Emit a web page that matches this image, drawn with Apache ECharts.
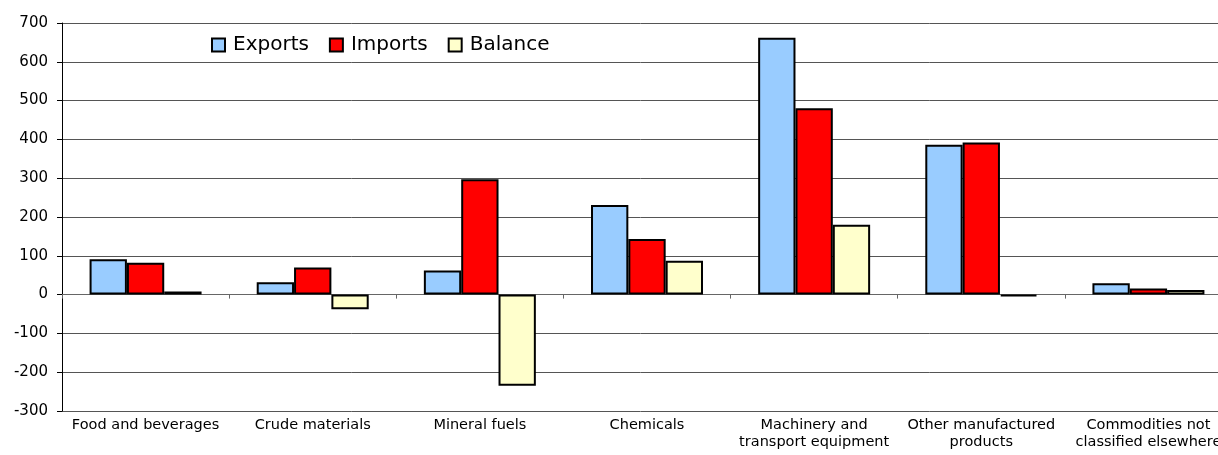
<!DOCTYPE html>
<html>
<head>
<meta charset="utf-8">
<script src="https://cdn.jsdelivr.net/npm/echarts@6/dist/echarts.min.js"></script>
<style>html,body{margin:0;padding:0;background:#fff}#c{width:1218px;height:455px}</style>
</head>
<body>
<div id="c"></div>
<script>
var categories = ["Food and beverages", "Crude materials", "Mineral fuels", "Chemicals", "Machinery and\ntransport equipment", "Other manufactured\nproducts", "Commodities not\nclassified elsewhere"];
var exportsData = [91, 32, 62, 231, 662, 386, 29];
var importsData = [82, 70, 297, 143, 480, 392, 16];
var balanceData = [8, -38, -235, 87, 180, -4, 12];
var yTicks = {min: -300, max: 700, interval: 100};

var FONT = "DejaVu Sans";
var chart = echarts.init(document.getElementById('c'), null, {renderer: 'canvas'});
var barStyle = function (c) { return {color: c, borderColor: '#000', borderWidth: 2}; };
chart.setOption({
  animation: false,
  backgroundColor: '#fff',
  grid: {left: 62, right: -14, top: 23, bottom: 44, containLabel: false, outerBoundsMode: 'none'},
  legend: {
    left: 211, top: 35, padding: 0, itemWidth: 13, itemHeight: 13, itemGap: 20,
    icon: 'rect',
    formatter: '{a|{name}}',
    textStyle: {fontFamily: FONT, fontSize: 20, color: '#000',
      rich: {a: {fontFamily: FONT, fontSize: 20, color: '#000', padding: [0, 0, 0, 3]}}},
    data: ['Exports', 'Imports', 'Balance']
  },
  xAxis: [
    {type: 'category', data: categories, position: 'bottom',
      axisLine: {show: true, onZero: true, lineStyle: {color: '#666', width: 1}},
      axisTick: {show: true, length: 4, lineStyle: {color: '#666'}},
      axisLabel: {show: false}, splitLine: {show: false}},
    {type: 'category', data: categories, position: 'bottom',
      axisLine: {show: false, onZero: false}, axisTick: {show: false},
      axisLabel: {show: true, interval: 0, margin: 6, fontFamily: FONT, fontSize: 14.5, color: '#000', lineHeight: 17, align: 'center'}}
  ],
  yAxis: {
    type: 'value', min: yTicks.min, max: yTicks.max, interval: yTicks.interval,
    axisLine: {show: true, lineStyle: {color: '#000', width: 1}},
    axisTick: {show: true, length: 5, lineStyle: {color: '#000'}},
    axisLabel: {margin: 14, fontFamily: FONT, fontSize: 15, color: '#000'},
    splitLine: {show: true, lineStyle: {color: '#555', width: 1}}
  },
  series: [
    {name: 'Exports', type: 'bar', xAxisIndex: 0, data: exportsData, barGap: '0%', barCategoryGap: '33%', itemStyle: barStyle('#99CCFF')},
    {name: 'Imports', type: 'bar', xAxisIndex: 0, data: importsData, barGap: '0%', barCategoryGap: '33%', itemStyle: barStyle('#FF0000')},
    {name: 'Balance', type: 'bar', xAxisIndex: 0, data: balanceData, barGap: '0%', barCategoryGap: '33%', itemStyle: barStyle('#FFFFCC')}
  ]
});
</script>
</body>
</html>
